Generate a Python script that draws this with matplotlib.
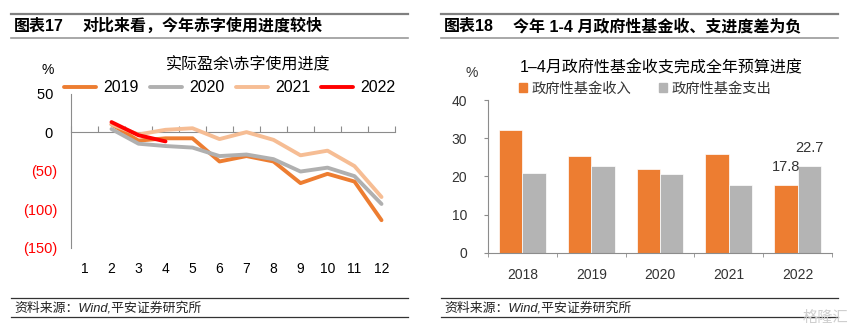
import matplotlib
matplotlib.use("Agg")
import matplotlib.pyplot as plt
from matplotlib.lines import Line2D
from matplotlib.patches import Patch
import numpy as np

plt.rcParams['font.family'] = ['Liberation Sans', 'Noto Sans CJK SC']
plt.rcParams['axes.unicode_minus'] = False

# left chart data: deficit usage progress (%)
months = list(range(1, 13))
s2019 = [None, 10, -11, -8, -8, -38, -31, -38, -66, -54, -64, -114]
s2020 = [None, 4, -15, -18, -20, -31, -29, -35, -51, -46, -57, -93]
s2021 = [None, 10, -3, 3, 5, -9, 0, -10, -30, -24, -44, -84]
s2022 = [None, 13, -4, -12, None, None, None, None, None, None, None, None]
left_yticks = [50, 0, -50, -100, -150]
left_ylabels = ["50 ", "0 ", "(50)", "(100)", "(150)"]

# right chart data: govt fund income/expense progress Jan-Apr (%)
years = ["2018", "2019", "2020", "2021", "2022"]
income = [32.1, 25.2, 21.8, 25.8, 17.8]
expense = [20.8, 22.6, 20.5, 17.8, 22.7]

W, H = 859, 332
def fx(px):
    return px / W
def fy(py):
    return 1 - py / H

fig = plt.figure(figsize=(W / 100, H / 100), dpi=100)

# header / footer rules and titles
for x0, x1 in [(11, 408), (441, 838)]:
    fig.add_artist(Line2D([fx(x0), fx(x1)], [fy(14), fy(14)], color="#808080", lw=1.6))
    fig.add_artist(Line2D([fx(x0), fx(x1)], [fy(38), fy(38)], color="#9a9a9a", lw=1.2))
    fig.add_artist(Line2D([fx(x0), fx(x1)], [fy(298), fy(298)], color="#333333", lw=0.9))
    fig.add_artist(Line2D([fx(x0), fx(x1)], [fy(317), fy(317)], color="#333333", lw=0.9))
    fig.text(fx(x0 + 3), fy(308), "资料来源：Wind,平安证券研究所", fontsize=9.3,
             style="italic", va="center", ha="left", color="#222222")

fig.text(fx(14), fy(26), "图表17", fontsize=11.5, fontweight="bold", va="center")
fig.text(fx(83), fy(26), "对比来看，今年赤字使用进度较快", fontsize=11.5, fontweight="bold", va="center")
fig.text(fx(444), fy(26), "图表18", fontsize=11.5, fontweight="bold", va="center")
fig.text(fx(513), fy(26), "今年 1-4 月政府性基金收、支进度差为负", fontsize=11.5, fontweight="bold", va="center")
fig.text(fx(825), fy(318), "格隆汇", fontsize=11, color="#cfcfcf", va="center", ha="center")

# ---------------- left chart ----------------
axis_gray = "#8c8c8c"
ax = fig.add_axes([fx(71), fy(248), fx(395) - fx(71), fy(93.5) - fy(248)])
ax.set_xlim(0.5, 12.5)
ax.set_ylim(-150, 50)

series = [(s2019, "2019", "#ED7D31"), (s2020, "2020", "#B0B0B0"),
          (s2021, "2021", "#F6BD94"), (s2022, "2022", "#FF0000")]
for vals, name, col in series:
    y = np.array([np.nan if v is None else v for v in vals], dtype=float)
    ax.plot(months, y, color=col, lw=2.8, label=name, solid_capstyle="round")

for sp in ["top", "right", "bottom"]:
    ax.spines[sp].set_visible(False)
ax.spines["left"].set_color(axis_gray)
ax.set_yticks(left_yticks, left_ylabels)
ax.tick_params(axis="y", length=0, pad=10, labelsize=10.5)
for lbl, v in zip(ax.get_yticklabels(), left_yticks):
    lbl.set_color("#FF0000" if v < 0 else "black")
ax.set_xticks(months)
ax.tick_params(axis="x", length=0, pad=10, labelsize=10)

# zero line with small upward ticks between months
zero_frac = (0 - (-150)) / 200
sec = ax.secondary_xaxis(zero_frac)
sec.set_xticks(np.arange(0.5, 13, 1), labels=[])
sec.tick_params(direction="out", length=4, color=axis_gray,
                labeltop=False, labelbottom=False)
for sp in sec.spines.values():
    sp.set_color(axis_gray)

fig.text(fx(248), fy(65), "实际盈余\\赤字使用进度", fontsize=11.5, ha="center", va="center")
fig.text(fx(48), fy(70), "%", fontsize=10, ha="center", va="center")
fig.legend(*ax.get_legend_handles_labels(), loc="center", ncol=4,
           bbox_to_anchor=(fx(230), fy(88)), frameon=False, fontsize=11.5,
           handlelength=2.0, handletextpad=0.45, columnspacing=0.7,
           borderaxespad=0, borderpad=0)

# ---------------- right chart ----------------
ax2 = fig.add_axes([fx(488), fy(252.7), fx(832) - fx(488), fy(100) - fy(252.7)])
x = np.arange(len(years))
bw = 0.34
b1 = ax2.bar(x - bw / 2, income, bw, color="#ED7D31", edgecolor="white", lw=0.5)
b2 = ax2.bar(x + bw / 2, expense, bw, color="#B4B4B4", edgecolor="white", lw=0.5)
ax2.set_xlim(-0.5, len(years) - 0.5)
ax2.set_ylim(0, 40)
for sp in ["top", "right"]:
    ax2.spines[sp].set_visible(False)
ax2.spines["left"].set_color(axis_gray)
ax2.spines["bottom"].set_color(axis_gray)
ax2.set_yticks([0, 10, 20, 30, 40])
ax2.tick_params(axis="y", length=3, color=axis_gray, pad=12, labelsize=10, labelcolor="#333333")
ax2.set_xticks(x, years)
ax2.set_xticks(np.arange(-0.5, len(years), 1), minor=True)
ax2.tick_params(axis="x", which="major", length=0, pad=11, labelsize=10, labelcolor="#333333")
ax2.tick_params(axis="x", which="minor", length=3, color=axis_gray)

last = len(years) - 1
for bars, vals in [(b1, income), (b2, expense)]:
    r = bars[last]
    ax2.annotate(f"{vals[last]:.1f}", (r.get_x() + r.get_width() / 2, r.get_height()),
                 xytext=(0, 13), textcoords="offset points", ha="center", va="center",
                 fontsize=10.5, color="#333333")

fig.text(fx(661), fy(68), "1–4月政府性基金收支完成全年预算进度", fontsize=11.5, ha="center", va="center")
fig.text(fx(472), fy(73), "%", fontsize=10, ha="center", va="center", color="#333333")
handles = [Patch(color="#ED7D31"), Patch(color="#B4B4B4")]
fig.legend(handles, ["政府性基金收入", "政府性基金支出"], loc="center", ncol=2,
           bbox_to_anchor=(fx(645), fy(89)), frameon=False, fontsize=10.3,
           handlelength=0.6, handleheight=0.6, handletextpad=0.3, columnspacing=1.9,
           borderaxespad=0, borderpad=0, labelcolor="#333333")

fig.savefig("out.png", dpi=100)
